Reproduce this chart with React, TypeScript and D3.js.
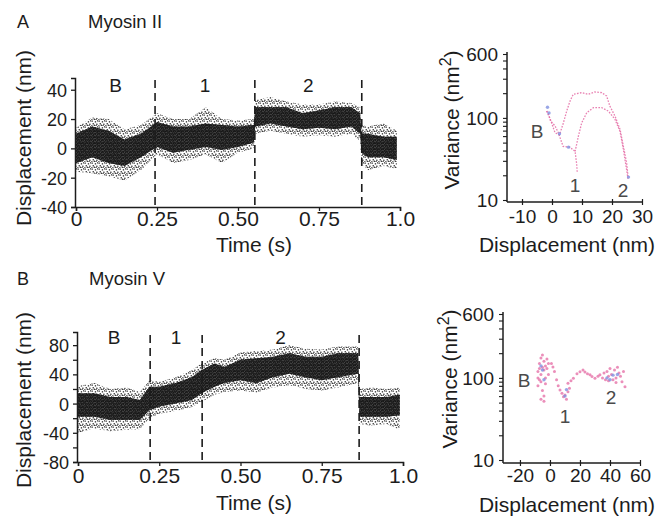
import React, { useRef, useEffect } from "react";
import * as d3 from "d3";

const FONT = '"Liberation Sans", Arial, Helvetica, sans-serif';
const INK = "#1c1c1c";
const PINK = "#e46aa3";
const BLUE = "#8090e0";

// ---- Myosin II trace (time s, displacement nm) ----
const TIME_A = [0, 0.05, 0.1, 0.15, 0.2, 0.25, 0.3, 0.35, 0.4, 0.45, 0.5, 0.549, 0.553, 0.6, 0.65, 0.7, 0.75, 0.8, 0.85, 0.877, 0.881, 0.9, 0.95, 0.99];
const CORE_HI_A = [10, 15, 12, 6, 10, 18, 15, 15, 17, 16, 15, 16, 28, 28, 28, 24, 26, 28, 28, 24, 10, 10, 8, 8];
const CORE_LO_A = [-10, -6, -10, -12, -6, 1, -3, -1, 1, -1, 1, 4, 15, 17, 15, 13, 14, 13, 15, 10, -3, -6, -6, -8];
const FRINGE_HI_A = [14, 21, 20, 13, 16, 24, 20, 20, 28, 20, 19, 20, 33, 35, 32, 30, 30, 32, 31, 28, 16, 15, 17, 12];
const FRINGE_LO_A = [-16, -17, -19, -22, -15, -4, -10, -8, -4, -10, -3, 0, 10, 12, 10, 8, 9, 8, 10, 5, -10, -15, -12, -14];
const STEPS_A = [0.244, 0.552, 0.882];

// ---- Myosin V trace ----
const TIME_B = [0, 0.05, 0.1, 0.15, 0.19, 0.22, 0.25, 0.3, 0.35, 0.38, 0.42, 0.45, 0.5, 0.55, 0.6, 0.65, 0.7, 0.75, 0.8, 0.862, 0.866, 0.9, 0.95, 0.99];
const CORE_HI_B = [14, 14, 9, 9, 5, 23, 23, 28, 36, 46, 55, 50, 60, 62, 64, 69, 64, 64, 69, 69, 9, 9, 9, 12];
const CORE_LO_B = [-18, -18, -22, -22, -22, -9, -4, 0, 5, 14, 23, 28, 32, 28, 36, 41, 36, 32, 36, 41, -18, -18, -18, -16];
const FRINGE_HI_B = [24, 28, 20, 22, 16, 32, 30, 36, 46, 55, 62, 60, 70, 72, 74, 80, 75, 74, 78, 78, 20, 22, 20, 22];
const FRINGE_LO_B = [-40, -34, -38, -36, -35, -20, -14, -10, -5, 2, 12, 16, 18, 15, 22, 25, 20, 18, 22, 28, -28, -30, -28, -36];
const STEPS_B = [0.222, 0.382, 0.865];

const SEGMENTS = ["B", "1", "2"];
const TIME_TICKS = [0, 0.25, 0.5, 0.75, 1];
const TIME_LABELS = ["0", "0.25", "0.50", "0.75", "1.0"];

// ---- variance vs displacement, Myosin II (dotted traces) ----
const VAR_A_PATH_B1: [number, number][] = [[-1.8, 121], [-1.3, 116], [-0.5, 92], [1, 80], [2.1, 66], [3.7, 45], [6, 44], [7.7, 39], [8.2, 28], [8.4, 22]];
const VAR_A_OUTER: [number, number][] = [[-1.8, 121], [-0.5, 95], [1, 66], [2.5, 62], [3.8, 87], [4.9, 121], [6, 160], [7.1, 194], [9.9, 203], [12.1, 194], [14.3, 207], [16.6, 203], [18.2, 185], [19.3, 139], [21, 105], [22.7, 72], [23.8, 45], [24.9, 28], [25.4, 18.5]];
const VAR_A_INNER: [number, number][] = [[7.7, 39], [8.8, 60], [9.9, 87], [11.6, 116], [13.8, 133], [16.6, 133], [18.8, 121], [21, 96], [22.7, 68], [23.8, 41], [24.9, 23], [25.4, 17.6]];
const VAR_A_BLUE: [number, number][] = [[-1.5, 135], [-1, 115], [2.5, 64], [5.5, 44], [25.5, 19]];

// ---- variance vs displacement, Myosin V (scattered points) ----
const VAR_B_PINK: [number, number][] = [
  [-8, 120], [-7, 150], [-6, 175], [-5, 190], [-4, 160], [-3, 140], [-6, 110], [-7, 95], [-8, 80], [-5, 70], [-4, 60], [-6, 55],
  [-3, 100], [-2, 130], [-1, 150], [-4, 125], [-5, 135], [-7, 130], [-3, 85], [-6, 90], [-2, 170], [-1, 110], [-8, 100], [-4, 52],
  [1, 150], [2, 136], [3, 120], [4.4, 95], [5.5, 80], [6.7, 71], [8, 65], [9, 59], [10, 62], [11, 55], [12, 68], [12, 86], [13, 75], [14, 92], [15.6, 99],
  [18, 112], [20, 119], [22, 125], [23.3, 118], [25, 112], [26.7, 109], [28, 104], [30, 99], [32, 105], [33.3, 109],
  [35, 100], [36, 115], [37, 95], [38, 120], [39, 105], [40, 130], [41, 110], [42, 95], [43, 125], [44, 100], [45, 135], [46, 115],
  [47, 105], [48, 90], [49, 120], [50, 78], [44, 88], [39, 92],
];
const VAR_B_BLUE: [number, number][] = [[-5, 125], [-4, 95], [-6, 140], [10, 60], [11, 72], [38, 100], [40, 95], [42, 108], [45, 110]];

const LOG_TICKS = [10, 20, 30, 40, 50, 60, 70, 80, 90, 100, 200, 300, 400, 500, 600];
const LOG_LABELS = [10, 100, 600];

function txt(g, x, y, s, size, anchor = "middle", fill = INK) {
  return g.append("text").attr("x", x).attr("y", y).attr("text-anchor", anchor)
    .attr("font-family", FONT).attr("font-size", size).attr("fill", fill).text(s);
}

function timePanel(svg, p) {
  const g = svg.append("g");
  const x = d3.scaleLinear().domain([0, 1]).range(p.xRange);
  const y = d3.scaleLinear().domain(p.yDomain).range(p.yRange);
  const idx = p.time.map((_, i) => i);

  const fringe = d3.area<number>().x((i) => x(p.time[i])).y0((i) => y(p.fringeLo[i])).y1((i) => y(p.fringeHi[i]));
  const core = d3.area<number>().x((i) => x(p.time[i])).y0((i) => y(p.coreLo[i])).y1((i) => y(p.coreHi[i]));
  g.append("path").attr("d", fringe(idx)).attr("fill", "url(#speckle)");
  g.append("path").attr("d", core(idx)).attr("fill", "url(#speckleDense)");
  g.append("path").attr("d", core(idx)).attr("fill", "#141414").attr("opacity", 0.8);

  // dashed phase boundaries
  g.selectAll(".step").data(p.steps).join("line")
    .attr("x1", (d) => x(d)).attr("x2", (d) => x(d))
    .attr("y1", p.dashTop).attr("y2", p.yRange[0])
    .attr("stroke", INK).attr("stroke-width", 1.6).attr("stroke-dasharray", "8,5");

  const bounds = [0, ...p.steps];
  SEGMENTS.forEach((s, i) => txt(g, x((bounds[i] + bounds[i + 1]) / 2), p.segBaseline, s, 19));

  // y axis
  const yAxis = d3.axisLeft(y).tickValues(p.yTicks).tickSize(4)
    .tickFormat((d) => (p.yLabeled.includes(d) ? String(d) : ""));
  const ya = g.append("g").attr("transform", `translate(${p.xRange[0] - 1},0)`).call(yAxis);
  ya.select(".domain").attr("stroke", INK).attr("stroke-width", 1.5);
  ya.selectAll("line").attr("stroke", INK).attr("stroke-width", 1.3);
  ya.selectAll("text").attr("font-family", FONT).attr("font-size", 18).attr("fill", INK).attr("x", -8).attr("dy", "0.36em");

  // x axis
  const xAxis = d3.axisBottom(x).tickValues(TIME_TICKS).tickSize(4).tickFormat((_, i) => TIME_LABELS[i]);
  const xa = g.append("g").attr("transform", `translate(0,${p.yRange[0]})`).call(xAxis);
  xa.select(".domain").attr("stroke", INK).attr("stroke-width", 1.5);
  xa.selectAll("line").attr("stroke", INK).attr("stroke-width", 1.3);
  xa.selectAll("text").attr("font-family", FONT).attr("font-size", 21).attr("fill", INK)
    .attr("y", p.tickBaseline - p.yRange[0]).attr("dy", 0);

  txt(g, 254, p.titleBaseline, "Time (s)", 21);
  txt(g, 0, 0, "Displacement (nm)", 21).attr("transform", `translate(31,${p.yTitleY}) rotate(-90)`);
}

function variancePanel(svg, p) {
  const g = svg.append("g");
  const x = d3.scaleLinear().domain(p.xDomain).range(p.xRange);
  const y = d3.scaleLog().domain([10, 600]).range(p.yRange);

  if (p.lines) {
    const ln = d3.line<[number, number]>().x((d) => x(d[0])).y((d) => y(d[1]));
    p.lines.forEach((s) => {
      g.append("path").attr("d", ln(s)).attr("fill", "none").attr("stroke", PINK)
        .attr("stroke-width", 1.3).attr("stroke-dasharray", "1.6,1.4").attr("opacity", 0.85);
    });
  }
  if (p.points) {
    g.selectAll(".pp").data(p.points).join("circle")
      .attr("cx", (d) => x(d[0])).attr("cy", (d) => y(d[1])).attr("r", 1.5)
      .attr("fill", PINK).attr("opacity", 0.75);
  }
  g.selectAll(".bp").data(p.blue).join("circle")
    .attr("cx", (d) => x(d[0])).attr("cy", (d) => y(d[1])).attr("r", 1.7)
    .attr("fill", BLUE).attr("opacity", 0.8);

  // axes
  const x0 = p.xRange[0];
  g.append("line").attr("x1", x0).attr("x2", x0).attr("y1", p.axisY).attr("y2", p.yRange[1] - 2).attr("stroke", INK).attr("stroke-width", 1.5);
  g.append("line").attr("x1", x0).attr("x2", p.xRange[1]).attr("y1", p.axisY).attr("y2", p.axisY).attr("stroke", INK).attr("stroke-width", 1.5);

  const yAxis = d3.axisLeft(y).tickValues(LOG_TICKS).tickSize(4)
    .tickFormat((d) => (LOG_LABELS.includes(d as number) ? String(d) : ""));
  const ya = g.append("g").attr("transform", `translate(${x0},0)`).call(yAxis);
  ya.select(".domain").remove();
  ya.selectAll("line").attr("stroke", INK).attr("stroke-width", 1.1);
  ya.selectAll("text").attr("font-family", FONT).attr("font-size", 19).attr("fill", INK).attr("x", -9).attr("dy", "0.36em");

  const xAxis = d3.axisBottom(x).tickValues(p.xTicks).tickSize(3).tickFormat((d) => String(d));
  const xa = g.append("g").attr("transform", `translate(0,${p.axisY})`).call(xAxis);
  xa.select(".domain").remove();
  xa.selectAll("line").attr("stroke", INK).attr("stroke-width", 1.2).attr("y1", -3).attr("y2", 3);
  xa.selectAll("text").attr("font-family", FONT).attr("font-size", 19).attr("fill", INK)
    .attr("y", p.tickBaseline - p.axisY).attr("dy", 0);

  txt(g, 567, p.titleBaseline, "Displacement (nm)", 21);
  const yt = txt(g, 0, 0, "Variance (nm", 21).attr("transform", `translate(${p.yTitleX},${p.yTitleY}) rotate(-90)`);
  yt.append("tspan").attr("baseline-shift", "super").attr("font-size", 16).text("2");
  yt.append("tspan").text(")");

  p.notes.forEach(([s, nx, ny]) => txt(g, nx, ny, s, 19, "middle", "#4a4a4a"));
}

function speckle(defs, id, w, h, dots, fill) {
  const pat = defs.append("pattern").attr("id", id)
    .attr("width", w).attr("height", h).attr("patternUnits", "userSpaceOnUse");
  dots.forEach(([a, b]) =>
    pat.append("rect").attr("x", a).attr("y", b).attr("width", 1.3).attr("height", 1.3).attr("fill", fill));
}

export default function App() {
  const ref = useRef<SVGSVGElement>(null);

  useEffect(() => {
    const svg = d3.select(ref.current);
    svg.selectAll("*").remove();

    const defs = svg.append("defs");
    speckle(defs, "speckle", 7, 6,
      [[0.5, 0.5], [3.8, 1.2], [1.6, 3.1], [5.2, 3.6], [6.1, 0.2], [2.7, 4.6], [4.4, 5.1], [0.2, 5.2]], "#262626");
    speckle(defs, "speckleDense", 4, 3,
      [[0.2, 0.2], [2.3, 0.9], [1.1, 1.8], [3.1, 2.2]], "#111");

    // panel headings
    txt(svg, 17, 28, "A", 18, "start");
    txt(svg, 88, 28, "Myosin II", 18.5, "start");
    txt(svg, 17, 285, "B", 18, "start");
    txt(svg, 89, 285, "Myosin V", 18.5, "start");

    timePanel(svg, {
      time: TIME_A, coreHi: CORE_HI_A, coreLo: CORE_LO_A, fringeHi: FRINGE_HI_A, fringeLo: FRINGE_LO_A,
      steps: STEPS_A, xRange: [76, 400], yDomain: [-40, 48], yRange: [207, 78],
      yTicks: [-40, -20, 0, 20, 40], yLabeled: [-40, -20, 0, 20, 40],
      dashTop: 80, segBaseline: 92, tickBaseline: 226, titleBaseline: 252, yTitleY: 138,
    });
    timePanel(svg, {
      time: TIME_B, coreHi: CORE_HI_B, coreLo: CORE_LO_B, fringeHi: FRINGE_HI_B, fringeLo: FRINGE_LO_B,
      steps: STEPS_B, xRange: [78, 403], yDomain: [-80, 98], yRange: [462, 332],
      yTicks: [-80, -60, -40, -20, 0, 20, 40, 60, 80], yLabeled: [-80, -40, 0, 40, 80],
      dashTop: 335, segBaseline: 344, tickBaseline: 483, titleBaseline: 510, yTitleY: 400,
    });

    variancePanel(svg, {
      xDomain: [-15, 30], xRange: [507, 642], yRange: [200, 54], axisY: 202,
      xTicks: [-10, 0, 10, 20, 30], tickBaseline: 223, titleBaseline: 252,
      yTitleX: 459, yTitleY: 120,
      lines: [VAR_A_PATH_B1, VAR_A_OUTER, VAR_A_INNER], blue: VAR_A_BLUE,
      notes: [["B", 537, 138], ["1", 575, 192], ["2", 623, 197]],
    });
    variancePanel(svg, {
      xDomain: [-31.3, 60], xRange: [503, 640], yRange: [460, 314], axisY: 463,
      xTicks: [-20, 0, 20, 40, 60], tickBaseline: 482, titleBaseline: 512,
      yTitleX: 457, yTitleY: 379,
      points: VAR_B_PINK, blue: VAR_B_BLUE,
      notes: [["B", 524, 387], ["1", 565, 423], ["2", 611, 404]],
    });
  }, []);

  return (
    <svg ref={ref} width={658} height={520}
      style={{ position: "absolute", left: 0, top: 0, background: "#fff" }} />
  );
}
